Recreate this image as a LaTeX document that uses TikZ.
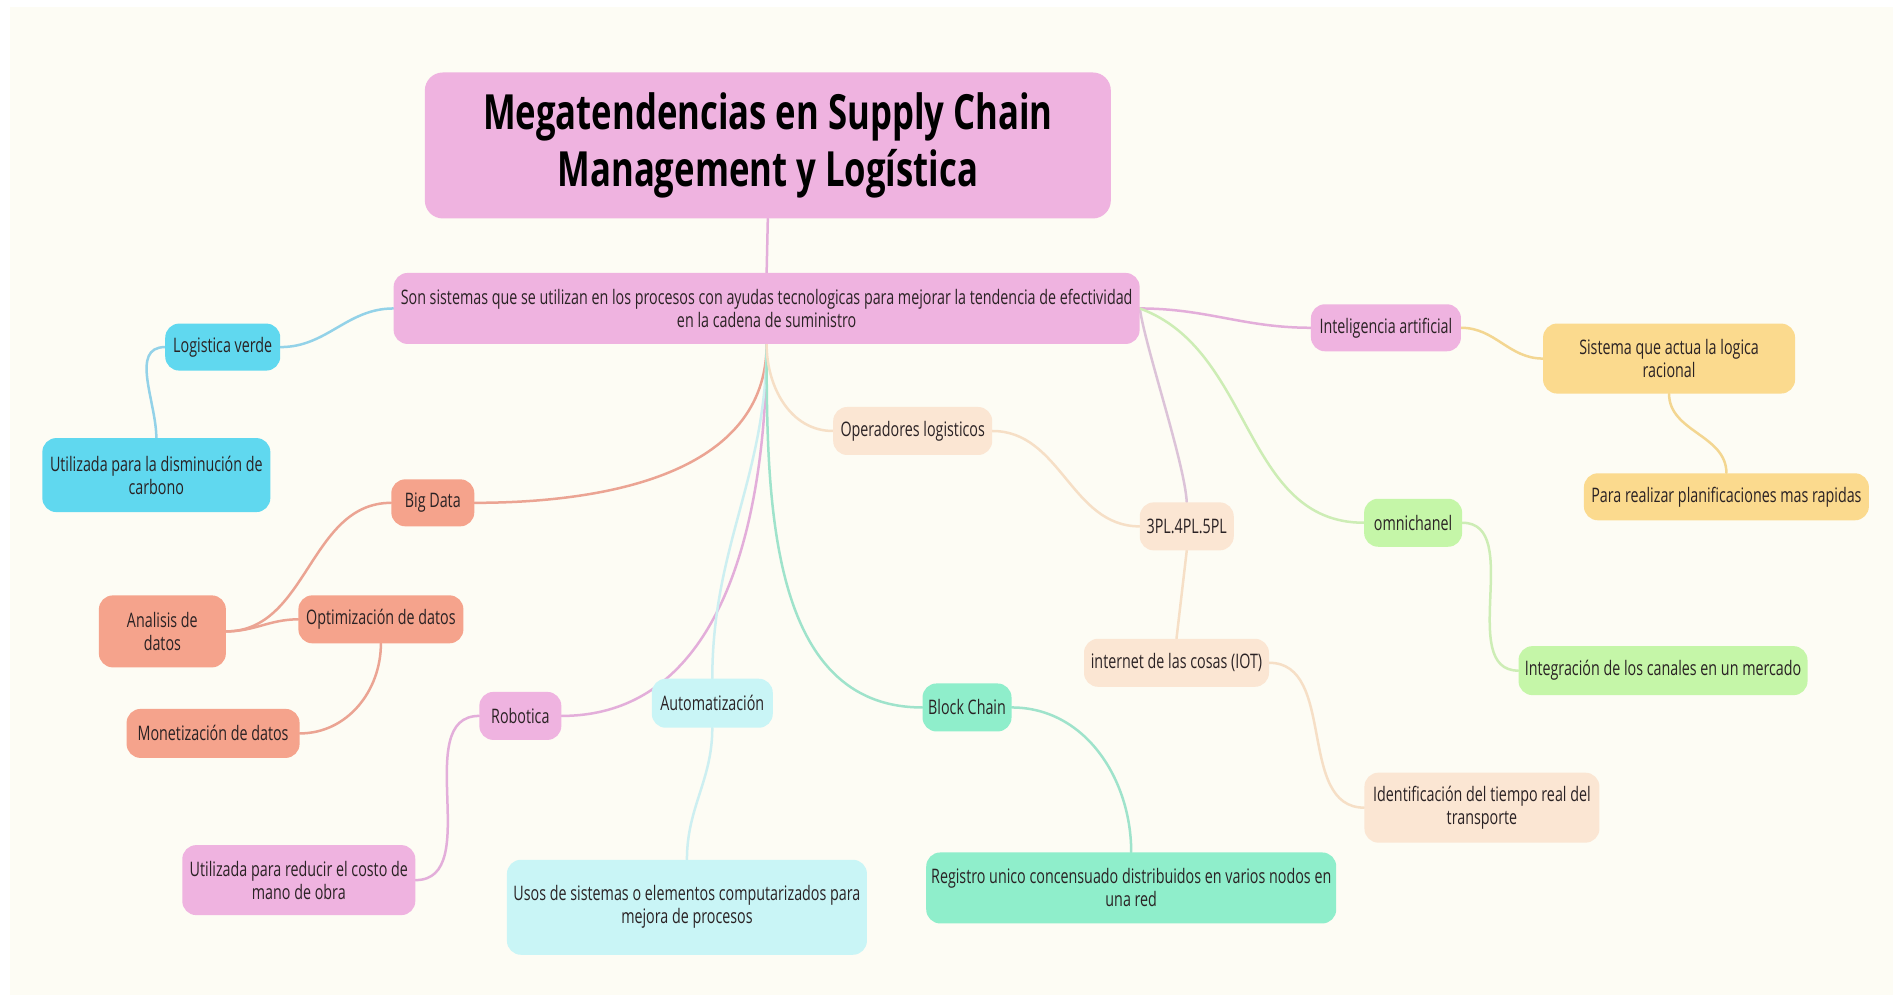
\documentclass[tikz,border=0pt]{standalone}
\usepackage{fontspec}
\setmainfont{Open Sans}[FakeStretch=0.715]
\definecolor{bgc}{HTML}{FDFCF4}
\definecolor{cpink}{HTML}{EFB3E0}
\definecolor{ccyan}{HTML}{60D8EF}
\definecolor{csalmon}{HTML}{F5A38C}
\definecolor{clcyan}{HTML}{C9F5F6}
\definecolor{cgreen}{HTML}{8FEECB}
\definecolor{cpeach}{HTML}{FBE6D3}
\definecolor{cyellow}{HTML}{FBDA8E}
\definecolor{clgreen}{HTML}{C5F6A8}
\definecolor{lpink}{HTML}{E3AEDA}
\definecolor{lcyan}{HTML}{93D2E8}
\definecolor{lsalmon}{HTML}{EBA493}
\definecolor{llcyan}{HTML}{CDEFF1}
\definecolor{lgreen}{HTML}{9FE3CB}
\definecolor{lpeach}{HTML}{F6DFC6}
\definecolor{lyellow}{HTML}{F3D691}
\definecolor{llgreen}{HTML}{CDEDB5}
\definecolor{lmauve}{HTML}{DCC3D8}
\definecolor{txt}{HTML}{2A2224}
\pgfdeclarelayer{back}
\pgfdeclarelayer{lines}
\pgfsetlayers{back,lines,main}
\tikzset{
  box/.style={rounded corners=14pt, inner sep=0pt, align=center, text=txt,
    font=\fontsize{20}{23}\selectfont},
  con/.style={line width=2.5pt, line cap=round}
}
\begin{document}
\begin{tikzpicture}[x=1.2073pt, y=-1.2073pt]
\begin{pgfonlayer}{back}
\fill[white] (0,0) rectangle (1568,824.2);
\fill[bgc] (8,6) rectangle (1568,824.2);
\end{pgfonlayer}
\useasboundingbox (0,0) rectangle (1568,824.2);

% nodes
\node[box, rounded corners=18pt, fill=cpink, text=black, minimum width=686pt, minimum height=146pt,
  font=\fontsize{48.5}{57}\selectfont\bfseries] (title) at (636,120.5)
  {Megatendencias en Supply Chain\\Management y Logística};
\node[box, fill=cpink, minimum width=746pt, minimum height=71pt] (main) at (635,255.5)
  {Son sistemas que se utilizan en los procesos con ayudas tecnologicas para mejorar la tendencia de efectividad\\en la cadena de suministro};

\node[box, fill=ccyan, minimum width=115pt, minimum height=47pt] (lv) at (184.5,287.5) {Logistica verde};
\node[box, fill=ccyan, minimum width=228pt, minimum height=74pt] (carb) at (129.5,393.5) {Utilizada para la disminución de\\carbono};

\node[box, fill=csalmon, minimum width=83pt, minimum height=47pt] (bd) at (358.5,416.5) {Big Data};
\node[box, fill=csalmon, minimum width=127pt, minimum height=72pt] (an) at (134.5,523) {Analisis de\\datos};
\node[box, fill=csalmon, minimum width=165pt, minimum height=48pt] (opt) at (315.5,513) {Optimización de datos};
\node[box, fill=csalmon, minimum width=173pt, minimum height=49pt] (mon) at (176.5,607.5) {Monetización de datos};

\node[box, fill=cpink, minimum width=82pt, minimum height=48pt] (rob) at (431,593) {Robotica};
\node[box, fill=cpink, minimum width=233pt, minimum height=70pt] (costo) at (247.5,729) {Utilizada para reducir el costo de\\mano de obra};

\node[box, fill=clcyan, minimum width=121pt, minimum height=49pt] (aut) at (590,582.5) {Automatización};
\node[box, fill=clcyan, minimum width=360pt, minimum height=95pt] (usos) at (569,751.5) {Usos de sistemas o elementos computarizados para\\mejora de procesos};

\node[box, fill=cgreen, minimum width=89pt, minimum height=48pt] (bc) at (801,586) {Block Chain};
\node[box, fill=cgreen, minimum width=410pt, minimum height=71pt] (reg) at (937,735.5) {Registro unico concensuado distribuidos en varios nodos en\\una red};

\node[box, fill=cpeach, minimum width=159pt, minimum height=48pt] (op) at (756,357) {Operadores logisticos};
\node[box, fill=cpeach, minimum width=94pt, minimum height=48pt] (pl) at (983,436) {3PL.4PL.5PL};
\node[box, fill=cpeach, minimum width=185pt, minimum height=48pt] (iot) at (974.5,549) {internet de las cosas (IOT)};
\node[box, fill=cpeach, minimum width=235pt, minimum height=70pt] (ident) at (1227.5,669) {Identificación del tiempo real del\\transporte};

\node[box, fill=cpink, minimum width=150pt, minimum height=47pt] (ia) at (1148,271.5) {Inteligencia artificial};
\node[box, fill=cyellow, minimum width=252pt, minimum height=70pt] (sis) at (1382.5,297) {Sistema que actua la logica\\racional};
\node[box, fill=cyellow, minimum width=285pt, minimum height=47pt] (para) at (1430,411.5) {Para realizar planificaciones mas rapidas};

\node[box, fill=clgreen, minimum width=98pt, minimum height=48pt] (omni) at (1170.5,433) {omnichanel};
\node[box, fill=clgreen, minimum width=289pt, minimum height=49pt] (integ) at (1377.5,555.5) {Integración de los canales en un mercado};

% connectors
\begin{pgfonlayer}{lines}
\draw[con, lpink] (title.south) -- (main.north);
\draw[con, lcyan] (main.west) to[out=180,in=0] (lv.east);
\draw[con, lcyan] (lv.west) to[out=180,in=90] (carb.north);
\draw[con, lsalmon] (main.south) to[out=-90,in=0] (bd.east);
\draw[con, lsalmon] (bd.west) to[out=180,in=0] (an.east);
\draw[con, lsalmon] (an.east) to[out=0,in=180] (opt.west);
\draw[con, lsalmon] (opt.south) to[out=-90,in=0] (mon.east);
\draw[con, lpink] (main.south) to[out=-90,in=0] (rob.east);
\draw[con, lpink] (rob.west) to[out=180,in=0] (costo.east);
\draw[con, llcyan] (main.south) to[out=-90,in=90] (aut.north);
\draw[con, llcyan] (aut.south) to[out=-90,in=90] (usos.north);
\draw[con, lgreen] (main.south) to[out=-90,in=180] (bc.west);
\draw[con, lgreen] (bc.east) to[out=0,in=90] (reg.north);
\draw[con, lpeach] (main.south) to[out=-90,in=180] (op.west);
\draw[con, lpeach] (op.east) to[out=0,in=180] (pl.west);
\draw[con, lmauve] (main.east) to[out=-82,in=93,looseness=0.5] (pl.north);
\draw[con, lpeach] (pl.south) -- (iot.north);
\draw[con, lpeach] (iot.east) to[out=0,in=180] (ident.west);
\draw[con, lpink] (main.east) to[out=0,in=180] (ia.west);
\draw[con, llgreen] (main.east) to[out=-20,in=180] (omni.west);
\draw[con, llgreen] (omni.east) to[out=0,in=180] (integ.west);
\draw[con, lyellow] (ia.east) to[out=0,in=180] (sis.west);
\draw[con, lyellow] (sis.south) to[out=-90,in=90] (para.north);
\end{pgfonlayer}
\end{tikzpicture}
\end{document}
